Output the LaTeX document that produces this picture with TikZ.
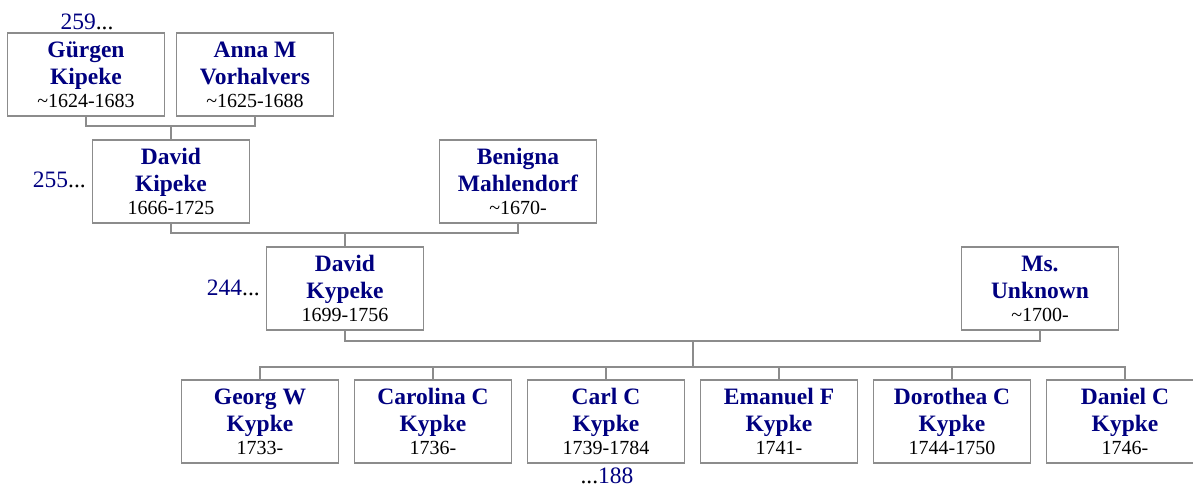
\documentclass[tikz,border=0pt]{standalone}
\usepackage{fontspec}
\setmainfont{Liberation Serif}
\usepackage{tikz}
\usetikzlibrary{positioning}

\definecolor{navy}{RGB}{0,0,128}
\definecolor{boxgray}{RGB}{140,140,140}

% name on two lines, then the dates
\newcommand{\namefont}{\fontsize{23.5}{27}\selectfont\bfseries}
\newcommand{\who}[3]{\textcolor{navy}{\namefont #1}\\\textcolor{navy}{\namefont #2}\\[-4pt]#3}

\begin{document}
\begin{tikzpicture}[x=1pt, y=-1pt,
  person/.style={draw=boxgray, line width=1.3pt, fill=white, minimum width=157pt, minimum height=83pt, inner sep=0pt, align=center, font=\fontsize{20}{27}\selectfont},
  link/.style={draw=boxgray, line width=1.2pt},
  ref/.style={inner sep=0pt, font=\fontsize{23.5}{27}\selectfont}]
  \useasboundingbox (0,0) rectangle (1193,486);
  \clip (0,0) rectangle (1193,486);

  % grandparents
  \node[person] (gurgen) at (86,74.5) {\who{Gürgen}{Kipeke}{\textasciitilde1624-1683}};
  \node[person] (anna) at (255,74.5) {\who{Anna M}{Vorhalvers}{\textasciitilde1625-1688}};
  % parents
  \node[person] (david1) at (171,181.5) {\who{David}{Kipeke}{1666-1725}};
  \node[person] (benigna) at (518,181.5) {\who{Benigna}{Mahlendorf}{\textasciitilde1670-}};
  % couple
  \node[person] (david2) at (345,288.5) {\who{David}{Kypeke}{1699-1756}};
  \node[person] (unknown) at (1040,288.5) {\who{Ms.}{Unknown}{\textasciitilde1700-}};
  % children
  \node[person] (georg) at (260,421.5) {\who{Georg W}{Kypke}{1733-}};
  \node[person] (carolina) at (433,421.5) {\who{Carolina C}{Kypke}{1736-}};
  \node[person] (carl) at (606,421.5) {\who{Carl C}{Kypke}{1739-1784}};
  \node[person] (emanuel) at (779,421.5) {\who{Emanuel F}{Kypke}{1741-}};
  \node[person] (dorothea) at (952,421.5) {\who{Dorothea C}{Kypke}{1744-1750}};
  \node[person] (daniel) at (1125,421.5) {\who{Daniel C}{Kypke}{1746-}};

  % references
  \node[ref, anchor=base] (ref259) at (87,30) {\textcolor{navy}{259}...};
  \node[ref, anchor=base east] (ref255) at (86,188) {\textcolor{navy}{255}...};
  \node[ref, anchor=base east] (ref244) at (260,295) {\textcolor{navy}{244}...};
  \node[ref, anchor=base] (ref188) at (607,483) {...\textcolor{navy}{188}};

  % family lines
  \coordinate (c1) at (171,126);
  \coordinate (c2) at (345,233);
  \coordinate (c3) at (693,341);
  \coordinate (c4) at (693,367);
  \draw[link] (gurgen) |- (c1) -| (anna);
  \draw[link] (c1) -- (david1);
  \draw[link] (david1) |- (c2) -| (benigna);
  \draw[link] (c2) -- (david2);
  \draw[link] (david2) |- (c3) -| (unknown);
  \draw[link] (c3) -- (c4);
  \foreach \kid in {georg,carolina,carl,emanuel,dorothea,daniel}
    \draw[link] (c4) -| (\kid);
\end{tikzpicture}
\end{document}
